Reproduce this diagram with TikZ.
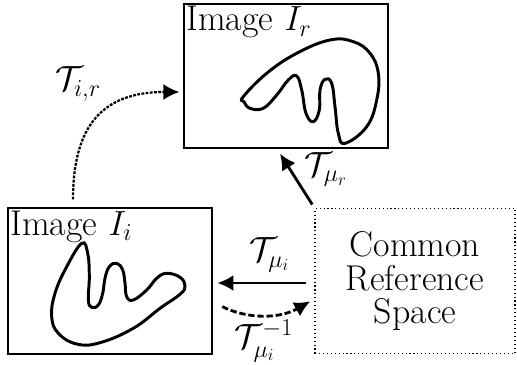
\documentclass[tikz,border=0pt]{standalone}
\usepackage{amsmath}
\usepackage{tikz}
\usetikzlibrary{positioning,arrows.meta,calc}
\DeclareMathSizes{25.5}{25.5}{18}{13}

\begin{document}
\begin{tikzpicture}[
    x=0.025cm, y=-0.025cm,
    font=\fontsize{25.5}{23.6}\selectfont,
    imgbox/.style={rectangle,draw,line width=0.8pt,minimum width=5.1cm,minimum height=3.6cm,inner sep=0pt},
    refbox/.style={rectangle,draw,dotted,line width=0.8pt,minimum width=5cm,minimum height=3.625cm,
                   align=center,inner sep=0pt},
    title/.style={anchor=north west,inner sep=2pt},
    lbl/.style={inner sep=1pt},
    blob/.style={line width=2.1pt},
    arrow/.style={-{Latex[length=4mm,width=4mm]},line width=2pt}
]
\useasboundingbox (0,0) rectangle (517,365);

% boxes
\node[imgbox] (ir) at (286,76) {};
\node[imgbox,minimum height=3.65cm] (ii) at (110,281) {};
\node[refbox] (crs) at (415,281) {Common\\Reference\\Space};

\node[title] (irtitle) at (ir.north west) {Image $I_r$};
\node[title] (iititle) at (ii.north west) {Image $I_i$};

% shapes inside the images
\draw[blob] plot[smooth cycle,tension=0.7] coordinates {
    (243.3,96.7) (266.7,73.3) (296.7,53.3) (330,40) (353.3,41.7) (370,53.3)
    (378.3,73.3) (376.7,100) (366.7,126.7) (345,143.3) (338.3,133.3) (335,106.7)
    (331.7,83.3) (325,79.3) (320,90) (319.3,110) (313.3,121.7) (306,113.3)
    (301.7,90) (296.7,76) (288.3,80) (276.7,95) (263.3,108.3) (250,108.3) (244,101.7)};
\draw[blob] plot[smooth cycle,tension=0.7] coordinates {
    (81.7,243.3) (66.7,266.7) (55,293.3) (51.7,316.7) (58.3,333.3) (76.7,344)
    (100,342.7) (133.3,328.3) (160,308.3) (180,294.3) (185,286) (180,277.3)
    (166.7,273.3) (156.7,278.3) (146.7,290) (133.3,300) (126.7,296.7) (125,283.3)
    (122.7,270) (116.7,263.3) (109.3,266.7) (105,278.3) (102.7,293.3) (98.3,305)
    (91.7,307.3) (88.3,300) (89.3,276.7) (87.7,253.3)};

% transforms
\draw[arrow,shorten <=0.1cm,shorten >=0.15cm] (crs.north west) -- ([xshift=-0.23cm]ir.south)
    node[lbl,pos=0.65,right=0.3cm] (tmur) {$\mathcal{T}_{\mu_r}$};
\draw[arrow,shorten <=0.2cm,shorten >=0.12cm] ([yshift=-0.05cm]crs.west) -- ([yshift=-0.05cm]ii.east)
    node[lbl,midway,above=6pt,xshift=0.15cm] (tmui) {$\mathcal{T}_{\mu_i}$};
\draw[arrow,dash pattern=on 4.5pt off 2pt,shorten <=0.27cm,shorten >=0.12cm]
    ([yshift=-0.52cm]ii.east) to[bend right=28]
    node[lbl,midway,below=2pt] (tmuiinv) {$\mathcal{T}^{-1}_{\mu_i}$}
    ([yshift=-0.45cm]crs.west);
\draw[arrow,densely dotted,line width=1.6pt,shorten <=0.2cm,shorten >=0.1cm]
    ([xshift=-0.925cm]ii.north) to[out=90,in=180,looseness=1.3] ([yshift=-0.4cm]ir.west);
\node[lbl] (tir) at (78,84) {$\mathcal{T}_{i,r}$};
\end{tikzpicture}
\end{document}
